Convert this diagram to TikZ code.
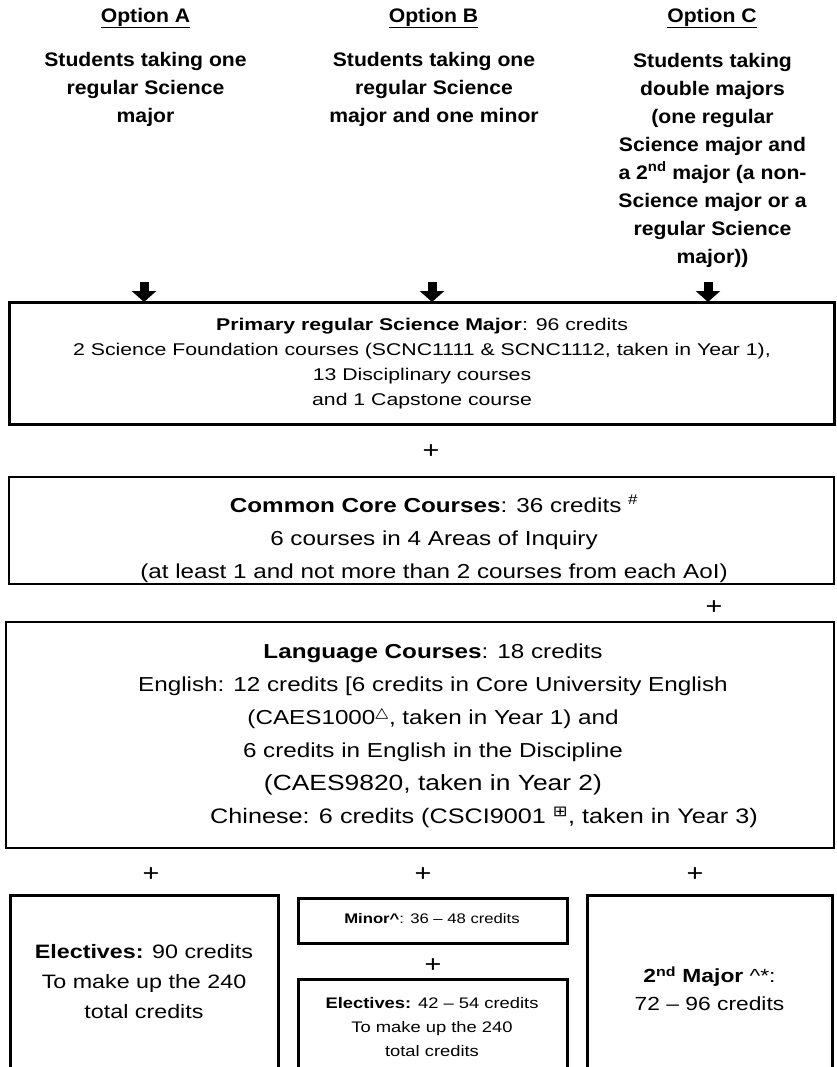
\documentclass[tikz,border=0pt]{standalone}
\usepackage{fontspec}
\setmainfont{Liberation Sans}[FakeStretch=1.2]
\newfontfamily\hdrfont{Liberation Sans}[FakeStretch=1.08]
\newfontfamily\boxfont{Liberation Sans}[FakeStretch=1.25]
\newfontfamily\symf{DejaVu Sans}[FakeStretch=1.2]
\usetikzlibrary{arrows.meta}
\begin{document}
\begin{tikzpicture}[x=1pt,y=-1pt,
  every node/.style={inner sep=0pt,outer sep=0pt},
  txt/.style={align=center,text=black},
  hdr/.style={txt,font=\hdrfont\fontsize{19.6}{28}\selectfont\bfseries},
  boxtxt/.style={txt,font=\boxfont\fontsize{17}{25}\selectfont},
  bigtxt/.style={txt,font=\fontsize{20.2}{33}\selectfont},
  plus/.style={font=\fontsize{24}{24}\selectfont},
  frame/.style={draw=black,fill=none,rectangle},
  bigarrow/.style={line width=9pt,-{Triangle[width=24pt,length=11pt]}}
]
\useasboundingbox (0,0) rectangle (837,1067);

% headers
\node[hdr] (hA) at (145.5,18) {\underline{Option A}};
\node[hdr] (hB) at (433.5,18) {\underline{Option B}};
\node[hdr] (hC) at (712,18) {\underline{Option C}};

\node[hdr] (oA) at (145.5,89) {Students taking one\\regular Science\\major};
\node[hdr] (oB) at (434,89) {Students taking one\\regular Science\\major and one minor};
\node[hdr] (oC) at (712.5,160) {Students taking\\double majors\\(one regular\\Science major and\\a 2\textsuperscript{nd} major (a non-\\Science major or a\\regular Science\\major))};

% box 1
\node[frame,line width=3pt,minimum width=825pt,minimum height=122pt] (b1) at (421.5,363) {};
\node[boxtxt] (t1) at (422,364) {\textbf{Primary regular Science Major}: 96 credits\\2 Science Foundation courses (SCNC1111 \& SCNC1112, taken in Year 1),\\13 Disciplinary courses\\and 1 Capstone course};

% arrows
\coordinate (aA) at (144,282);
\coordinate (aB) at (432,282);
\coordinate (aC) at (708,282);
\draw[bigarrow] (aA) -- (aA |- b1.north);
\draw[bigarrow] (aB) -- (aB |- b1.north);
\draw[bigarrow] (aC) -- (aC |- b1.north);

\node[plus] (p1) at (431,452) {+};

% box 2
\node[frame,line width=1.6pt,minimum width=825pt,minimum height=107pt] (b2) at (421.5,530.5) {};
\node[bigtxt] (t2) at (434,539) {\textbf{Common Core Courses}: 36 credits \textsuperscript{\#}\\6 courses in 4 Areas of Inquiry\\(at least 1 and not more than 2 courses from each AoI)};

\node[plus] (p2) at (714,608) {+};

% box 3
\node[frame,line width=2pt,minimum width=828pt,minimum height=226pt] (b3) at (420,735) {};
\node[bigtxt] (t3) at (433,736) {\textbf{Language Courses}: 18 credits\\English: 12 credits [6 credits in Core University English\\(CAES1000\textsuperscript{\symf △}, taken in Year 1) and\\6 credits in English in the Discipline\\{\fontsize{22}{33}\selectfont (CAES9820, taken in Year 2)}\hspace*{27pt}\\\hspace*{102pt}{\fontsize{21}{33}\selectfont Chinese: 6 credits (CSCI9001 \textsuperscript{\symf ⊞}, taken in Year 3)}};

% plus row
\node[plus] (p3) at (151,875) {+};
\node[plus] (p4) at (423,875) {+};
\node[plus] (p5) at (695,875) {+};

% bottom boxes
\node[frame,line width=3pt,minimum width=268pt,minimum height=185pt] (bL) at (144,987.5) {};
\node[txt,font=\fontsize{19.4}{30}\selectfont] (tL) at (144,982) {\textbf{Electives:} 90 credits\\To make up the 240\\total credits};

\node[frame,line width=3pt,minimum width=269pt,minimum height=45pt] (bM1) at (432.5,920.5) {};
\node[txt,font=\fontsize{13.9}{20}\selectfont] (tM1) at (432,919) {\textbf{Minor\textasciicircum}: 36 \textendash{} 48 credits};

\node[plus] (p6) at (433,966) {+};

\node[frame,line width=3pt,minimum width=269pt,minimum height=101pt] (bM2) at (432.5,1029.5) {};
\node[txt,font=\fontsize{15.3}{24}\selectfont] (tM2) at (432,1027) {\textbf{Electives:} 42 \textendash{} 54 credits\\To make up the 240\\total credits};

\node[frame,line width=3pt,minimum width=245pt,minimum height=185pt] (bR) at (709.5,987.5) {};
\node[txt,font=\fontsize{19}{28}\selectfont] (tR) at (709.5,989) {\textbf{2\textsuperscript{nd} Major} \textasciicircum*:\\72 \textendash{} 96 credits};
\end{tikzpicture}
\end{document}
